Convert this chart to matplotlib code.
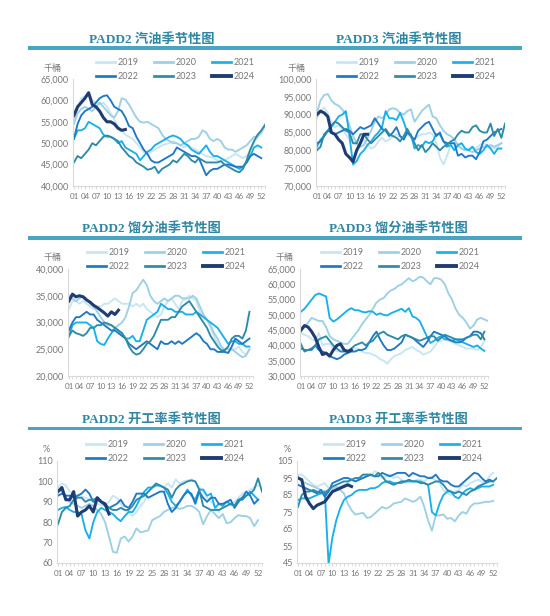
import matplotlib.pyplot as plt
import matplotlib.ticker as mticker
from matplotlib.patches import Rectangle
import numpy as np

W, H = 550, 616

years = ['2019', '2020', '2021', '2022', '2023', '2024']
colors = ['#c8e5f1', '#9dd0e4', '#18b0ea', '#1f78c4', '#2e8ba6', '#1f3d73']
widths = [1.35, 1.35, 1.35, 1.35, 1.35, 2.2]

# PADD2 汽油 (千桶)
gas2_2019 = [55500, 58000, 60500, 61000, 61500, 60000, 59500, 59000, 59500, 58500, 57000, 55500, 54000,
             53000, 52000, 51500, 51000, 50000, 49000, 48000, 47500, 48000, 48500, 49000, 49500, 49800,
             50000, 50500, 50000, 49500, 49000, 49500, 49000, 48500, 48000, 47500, 47000, 46800, 46500,
             46000, 45800, 46000, 46500, 47000, 47500, 47000, 46500, 47000, 48500, 50000, 51500, 52500]
gas2_2020 = [54500, 57000, 58000, 58500, 58000, 57500, 58500, 59500, 58500, 57500, 56500, 56000, 57500,
             60500, 60200, 59000, 57500, 56000, 55000, 54800, 55000, 54500, 54000, 53500, 52000, 51000,
             50500, 50000, 50000, 49500, 50000, 50500, 51000, 51000, 51500, 53000, 52500, 51000, 50500,
             51000, 50500, 49000, 48500, 48500, 48000, 48500, 49000, 49500, 50500, 51500, 51500, 52500, 54000]
gas2_2021 = [51000, 53000, 53000, 53500, 55000, 54500, 54000, 53500, 52000, 51500, 51500, 51000, 50000,
             50500, 49000, 48500, 48000, 47500, 46000, 47000, 48000, 48500, 49500, 50000, 50500, 51000,
             51500, 51800, 51500, 51000, 50000, 49500, 48500, 48000, 47500, 48500, 49500, 48000, 47000,
             47000, 46500, 46000, 45500, 45000, 44500, 44000, 44500, 45500, 47000, 49000, 49500, 49000]
gas2_2022 = [51000, 54500, 56500, 57500, 58000, 58500, 59500, 60500, 61000, 61200, 60000, 58500, 58000,
             57500, 56000, 54000, 53500, 51500, 50000, 48500, 47500, 46000, 45500, 45500, 46000, 46500,
             47000, 47500, 49000, 48500, 48000, 47500, 47000, 47000, 46500, 44500, 42500, 43500, 44000,
             44000, 44500, 45000, 45000, 44800, 44500, 44500, 44500, 45500, 47000, 47500, 47000, 46500]
gas2_2023 = [45500, 47000, 46500, 47500, 48500, 50000, 49500, 50500, 51500, 51800, 51500, 51000, 50500,
             49000, 48000, 47000, 46500, 45500, 45000, 44500, 43800, 44000, 44500, 43000, 44000, 44500,
             45000, 46000, 45500, 46500, 47500, 47000, 46000, 45500, 46500, 46000, 45500, 45500, 45500,
             45500, 45800, 45000, 44500, 44000, 43500, 43200, 44000, 46000, 48500, 50500, 52000, 53000, 54300]
gas2_2024 = [56500, 58500, 59500, 60500, 61800, 59000, 58500, 57500, 56000, 55000, 55000, 54500, 53500,
             53000, 53200]

# PADD3 汽油 (千桶)
gas3_2019 = [89000, 91000, 92000, 90500, 88000, 86500, 87000, 86000, 84500, 83000, 82000, 81500, 82000,
             83000, 81500, 80500, 81000, 82500, 83500, 82500, 83000, 84000, 84500, 83500, 84000, 84500,
             83500, 83000, 84000, 84500, 84500, 85000, 84500, 82000, 78000, 76000, 78500, 81500, 82000,
             81000, 80500, 80000, 80500, 81000, 80500, 81500, 82000, 81500, 81000, 80500, 81000, 82000]
gas3_2020 = [90500, 94000, 95500, 95800, 94000, 93000, 92500, 91500, 90000, 87000, 84000, 82000, 81000,
             81500, 83500, 85500, 88000, 89500, 89000, 90000, 91500, 91800, 91500, 90500, 90000, 91000,
             91500, 88000, 89500, 91000, 92000, 92800, 89500, 89000, 87000, 85500, 84500, 84000, 83000,
             81500, 80500, 80000, 80000, 79500, 80000, 80500, 81000, 81000, 81500, 81000, 81500, 82000]
gas3_2021 = [81000, 83000, 84000, 85500, 86500, 88000, 89500, 90000, 91000, 84000, 76000, 77000, 79000,
             80000, 81500, 82500, 84000, 85000, 86500, 91000, 89000, 89000, 88500, 90500, 88000, 85000,
             84500, 80500, 81500, 81000, 82500, 82000, 82500, 84500, 84500, 82500, 81000, 81500, 80000,
             81500, 82000, 80500, 80000, 81000, 79500, 79000, 80000, 81500, 80500, 79000, 80500, 80500]
gas3_2022 = [82000, 82500, 84000, 85500, 85000, 84500, 85000, 85500, 86000, 85500, 84500, 85500, 86500,
             86000, 86500, 87000, 89000, 87500, 86000, 85500, 84000, 85000, 86500, 84000, 83000, 85000,
             84000, 83000, 85500, 86500, 87500, 88000, 86000, 84000, 85000, 82500, 82000, 82000, 82000,
             78500, 79000, 78000, 78500, 78500, 77500, 79500, 82500, 83000, 84000, 85000, 85500, 86000]
gas3_2023 = [80000, 81000, 84500, 85500, 87000, 88000, 87500, 86500, 85500, 85000, 82000, 82000, 84500,
             84500, 83000, 82000, 83000, 84000, 85000, 86000, 84500, 84000, 83500, 82500, 84000, 86000,
             84000, 82000, 80000, 81500, 79500, 80500, 82000, 81000, 80000, 81000, 81500, 82500, 83000,
             84500, 85500, 85000, 85000, 86500, 87000, 85500, 85000, 85000, 87500, 84000, 86000, 83500, 87500]
gas3_2024 = [90000, 91000, 90500, 89500, 85000, 84500, 83000, 82000, 79000, 78000, 76800, 80000, 82000,
             84500, 84500]

# PADD2 馏分油 (千桶)
dist2_2019 = [32500, 34000, 34000, 33500, 34000, 33500, 33000, 32500, 33000, 33000, 33500, 33500, 34000,
              34500, 34000, 33500, 33500, 33500, 33000, 33500, 33000, 33500, 32500, 32000, 31500, 31000,
              31500, 33000, 34000, 34500, 33500, 32500, 34000, 34500, 35000, 34500, 34000, 32000, 31000,
              30500, 29000, 27500, 26000, 25500, 24500, 24500, 25000, 25000, 25500, 24500, 24000, 25000]
dist2_2020 = [35000, 34500, 34000, 34500, 35000, 34500, 33500, 33000, 32000, 31000, 30000, 29500, 29500,
              29000, 29500, 30000, 31000, 33000, 35500, 36000, 37000, 38000, 37000, 35000, 34000, 33500,
              34000, 34500, 34000, 34500, 35000, 35000, 34500, 34500, 34500, 35000, 34500, 33000, 31500,
              30500, 29500, 28000, 27000, 25500, 25000, 25000, 25000, 24500, 24000, 23500, 23800, 25000]
dist2_2021 = [27300, 29500, 30000, 30000, 30000, 30000, 29500, 29000, 26500, 26000, 25800, 27000, 28000,
              29000, 28500, 28000, 27000, 27000, 27500, 26500, 26500, 28500, 30500, 31000, 31500, 32000,
              33500, 33000, 32500, 32500, 32000, 32000, 32000, 31500, 31500, 31500, 32000, 31500, 31000,
              30500, 30000, 29500, 29000, 28000, 27000, 26000, 26500, 26500, 26000, 26000, 25500, 25500]
dist2_2022 = [28500, 30000, 31000, 31000, 31500, 32000, 31500, 31500, 30500, 30000, 29500, 29000, 28500,
              28500, 28000, 27500, 27000, 26000, 25500, 25000, 25500, 26000, 26500, 26000, 25500, 25000,
              26500, 26000, 26000, 26500, 26000, 26500, 26000, 26500, 27000, 27500, 28000, 27500, 26500,
              26000, 25000, 25000, 24500, 24500, 24500, 24300, 25500, 27000, 26500, 26000, 26500, 27000]
dist2_2023 = [27500, 28500, 28000, 27800, 27500, 28000, 29000, 29000, 29500, 29500, 30000, 29800, 29500,
              29000, 28500, 28000, 27000, 25500, 24500, 24000, 24200, 25000, 26000, 26500, 27500, 29000,
              30500, 30500, 30500, 31000, 31000, 32000, 33000, 33500, 34000, 33000, 32000, 31000, 30000,
              29000, 27500, 26500, 25500, 24800, 24800, 25500, 27000, 27500, 27500, 27000, 28500, 32000]
dist2_2024 = [34000, 35300, 34800, 35000, 34800, 34200, 33800, 33200, 32800, 32300, 31800, 31200, 32000,
              31500, 32300]

# PADD3 馏分油 (千桶)
dist3_2019 = [44000, 43500, 43000, 42000, 41500, 44000, 40000, 40500, 40500, 39000, 38000, 38500, 39000,
              38500, 38500, 39000, 39000, 38000, 37500, 37500, 37000, 36500, 35500, 35000, 34000, 35500,
              36500, 37000, 37500, 38500, 39000, 39500, 38500, 38000, 37000, 37500, 38000, 39500, 41000,
              41500, 42000, 41500, 41000, 40500, 40000, 39500, 39000, 39000, 39000, 38500, 39500, 41500]
dist3_2020 = [44500, 46000, 47500, 49000, 48500, 48000, 48000, 46000, 43000, 42000, 41500, 41000, 40500,
              40500, 42000, 43500, 45000, 47000, 48500, 50000, 52000, 54000, 55000, 55500, 57000, 58000,
              58500, 59500, 60000, 61000, 62000, 61000, 61500, 62500, 62200, 61000, 60000, 62000, 62000,
              61500, 60000, 57000, 55000, 52000, 50000, 49000, 47500, 45500, 46500, 48500, 49000, 48500, 48000]
dist3_2021 = [51000, 52000, 53500, 55000, 56500, 57000, 56500, 56000, 49000, 47800, 48500, 49500, 50500,
              51500, 52200, 51500, 51500, 51000, 50800, 51200, 51000, 50000, 50500, 50000, 49800, 50500,
              51000, 51500, 52000, 51000, 52200, 49500, 49000, 48000, 45500, 43000, 40800, 41500, 42500,
              43000, 42000, 42000, 41500, 42000, 41500, 41000, 40500, 40000, 39500, 40000, 39000, 38200]
dist3_2022 = [39000, 38500, 38500, 39000, 40000, 38500, 38000, 37500, 36500, 36000, 35500, 36000, 37000,
              37500, 38000, 38000, 38500, 38500, 39000, 41000, 43000, 44500, 42000, 40000, 38500, 38500,
              39000, 40000, 41000, 43500, 43000, 42500, 41500, 40500, 39500, 41000, 43000, 44500, 44000,
              43500, 43000, 42000, 41500, 41000, 41000, 41500, 42500, 43000, 44500, 44500, 44000, 42000]
dist3_2023 = [40500, 38000, 38500, 38500, 40000, 42000, 42500, 43000, 41500, 40000, 39000, 38000, 38000,
              38000, 39000, 40000, 40500, 41000, 40000, 41000, 41500, 43000, 44000, 44500, 43500, 43000,
              42500, 42000, 43000, 43500, 43000, 42500, 42000, 41500, 42000, 42500, 43000, 43000, 41500,
              42500, 43500, 43000, 42500, 42000, 42000, 42000, 42500, 43000, 43500, 43500, 42000, 44500]
dist3_2024 = [45000, 46500, 46000, 44500, 42500, 39500, 37000, 37500, 36500, 38500, 40000, 40500, 38500,
              38000, 38500]

# PADD2 开工率 (%)
run2_2019 = [97, 99, 98, 95, 94, 93, 92.5, 92, 91, 90, 89, 88.5, 88, 90, 93, 92, 89, 86, 85, 83, 85, 88,
             90, 95, 96.5, 98, 97.5, 97, 99, 97, 101, 99, 100, 100.5, 101, 100, 97, 95, 92, 90, 88, 85,
             88, 90, 88, 90, 92, 94, 95, 96, 97, 98]
run2_2020 = [96, 95, 92, 90, 89, 88, 87, 88, 89, 88, 86, 84, 80, 73, 65.5, 65, 72, 73, 70.5, 73, 77, 75,
             75.5, 76, 81, 82, 83, 85, 86, 87, 87.5, 86.5, 87, 88, 88, 87, 85, 79, 83, 86, 84, 82, 84,
             79.5, 80, 82, 83.5, 83, 83, 82, 78, 81]
run2_2021 = [86, 87, 87.5, 86, 85, 85, 84, 76, 72, 80, 85, 87, 86, 85, 84, 82, 80.5, 83, 85, 85, 88, 92,
             95, 97, 97, 98, 98, 97, 94, 90, 88, 90, 93, 96, 93, 91, 96, 96, 93, 94, 87, 89, 88, 90, 89,
             88, 91, 92, 93, 95, 93, 91]
run2_2022 = [93, 94, 93, 93, 92, 93, 94, 96, 94, 90, 91, 90, 89, 87, 88, 89, 91, 88, 87, 90, 94, 94, 94,
             92, 93, 94, 95, 95, 89, 85, 87, 90, 93, 95, 94, 89, 95, 92, 90, 92, 92, 89, 89, 90, 91, 87,
             90, 92, 95, 93, 89, 91]
run2_2023 = [79, 85, 87, 88, 91, 92, 92, 90, 91, 91, 92, 90, 88, 87, 86, 86, 87, 86, 86, 88, 91, 92, 93,
             95, 97, 99, 98, 97, 96, 92, 96, 98, 99, 100, 100.5, 100, 96, 88, 87, 86, 86, 86, 87, 88, 89,
             88, 91, 91, 93, 94, 96, 101.5, 95]
run2_2024 = [95, 97, 91, 91, 95, 83, 85, 86, 88, 85, 92, 90, 89, 84]

# PADD3 开工率 (%)
run3_2019 = [97, 97, 95, 93, 91, 90, 91, 92, 89, 88, 89, 90, 91, 92, 94, 93, 95, 95, 97, 96, 99, 98, 95,
             96, 97, 95, 96, 94, 92, 93, 93, 94, 94, 93, 95, 96, 93, 92, 88, 86, 85, 87, 88, 91, 90, 92,
             93, 94, 93, 92, 96, 98]
run3_2020 = [96, 93, 92, 91, 90, 89, 88, 87, 88, 89, 90, 88, 86, 80, 76, 73.5, 74, 74.5, 71.5, 72, 74, 76,
             78, 77, 78, 80, 80.5, 81, 83, 82, 81, 82, 84, 78, 70, 64, 73, 73, 73.5, 71, 71.5, 69.5, 73,
             75, 74, 78, 80, 80, 80.5, 81, 81, 81.5]
run3_2021 = [82, 83, 83, 83, 84, 85, 86, 87, 44.5, 60, 70, 77, 82, 84, 85, 87, 88, 88, 88, 89, 89, 90, 92,
             93, 93, 92, 92, 92, 93, 93, 93, 93, 93, 92, 91, 75, 73, 80, 85, 87, 87, 84, 83, 86, 88, 89,
             88, 89, 90, 90, 90, 91]
run3_2022 = [91, 90, 89, 88, 87, 86, 88, 84, 87, 92, 93, 94, 95, 95, 94, 93, 94, 95, 96, 97, 96, 96, 98,
             97, 96, 97, 98, 98, 98, 96, 98, 97, 96, 96, 95, 95, 97, 94, 93, 93, 91, 90, 90, 92, 94, 96,
             98, 97.5, 95, 93, 94, 93]
run3_2023 = [78, 85, 87, 87, 88, 87, 86, 86, 88, 90, 91, 92, 93, 93, 94, 95, 95, 97, 97, 97, 96, 98, 96,
             93, 92, 91, 92, 93, 93, 94, 93, 93, 92, 92, 91, 92, 93, 93, 91, 88, 87, 86, 87, 86, 85, 87,
             88, 90, 91, 92, 93, 93, 95]
run3_2024 = [95, 94, 84, 80, 77, 79, 80, 81, 84, 87, 88, 89, 90, 91, 90]

gas2 = [gas2_2019, gas2_2020, gas2_2021, gas2_2022, gas2_2023, gas2_2024]
gas3 = [gas3_2019, gas3_2020, gas3_2021, gas3_2022, gas3_2023, gas3_2024]
dist2 = [dist2_2019, dist2_2020, dist2_2021, dist2_2022, dist2_2023, dist2_2024]
dist3 = [dist3_2019, dist3_2020, dist3_2021, dist3_2022, dist3_2023, dist3_2024]
run2 = [run2_2019, run2_2020, run2_2021, run2_2022, run2_2023, run2_2024]
run3 = [run3_2019, run3_2020, run3_2021, run3_2022, run3_2023, run3_2024]

# title, data, unit, y range, y step, axes box in pixels (left, right, top, bottom), unit label pos
panels = [
    ('PADD2 汽油季节性图', gas2, '千桶', (40000, 65000), 5000, (73, 265, 79, 186), (52, 68)),
    ('PADD3 汽油季节性图', gas3, '千桶', (70000, 100000), 5000, (316, 505, 79, 186), (297, 69)),
    ('PADD2 馏分油季节性图', dist2, '千桶', (20000, 40000), 5000, (68, 253, 269, 376), (52, 258)),
    ('PADD3 馏分油季节性图', dist3, '千桶', (30000, 65000), 5000, (300, 488, 269, 376), (284, 258)),
    ('PADD2 开工率季节性图', run2, '%', (60, 110), 10, (57, 262, 461, 563), (46, 450)),
    ('PADD3 开工率季节性图', run3, '%', (45, 105), 10, (297, 497, 461, 563), (287, 450)),
]
title_rows = [(40, 48), (229, 238), (420, 428)]
tick_color = '#767676'
title_color = '#2f86a3'
bar_color = '#4aa5c3'
cjk = ['Liberation Serif', 'Noto Sans CJK SC']
sans = ['Lato', 'Noto Sans CJK SC']

fig = plt.figure(figsize=(W / 100, H / 100), dpi=100)
fig.patch.set_facecolor('white')

for i, (title, series, unit, ylim, ystep, box, upos) in enumerate(panels):
    l, r, t, b = box
    ax = fig.add_axes([l / W, 1 - b / H, (r - l) / W, (b - t) / H])
    handles = []
    for vals, yr, c, lw in zip(series, years, colors, widths):
        x = np.arange(1, len(vals) + 1)
        h, = ax.plot(x, vals, color=c, lw=lw, label=yr, solid_joinstyle='round')
        handles.append(h)

    ax.set_xlim(0.75, 53)
    ax.set_ylim(*ylim)
    ax.set_yticks(np.arange(ylim[0], ylim[1] + 1, ystep))
    ax.yaxis.set_major_formatter(mticker.FuncFormatter(lambda v, p: f'{int(v):,}'))
    ax.set_xticks(np.arange(1, 53, 3))
    ax.set_xticklabels([f'{w:02d}' for w in range(1, 53, 3)])
    ax.set_xticks(np.arange(1, 54), minor=True)
    for s in ['top', 'right']:
        ax.spines[s].set_visible(False)
    for s in ['left', 'bottom']:
        ax.spines[s].set_color('#d9d9d9')
        ax.spines[s].set_linewidth(0.8)
    ax.tick_params(axis='y', length=0, labelsize=6.5, labelcolor=tick_color, pad=3)
    ax.tick_params(axis='x', which='both', length=2, color='#d9d9d9', labelsize=5.8,
                   labelcolor=tick_color, pad=3)
    for lab in ax.get_xticklabels() + ax.get_yticklabels():
        lab.set_family(sans)

    # legend above the plot, row-major order
    order = [0, 3, 1, 4, 2, 5]
    cx = (l + r) / 2 / W + 6 / W
    cy = 1 - (t - 9.5) / H
    leg = ax.legend([handles[k] for k in order], [years[k] for k in order], ncol=3, loc='center',
                    bbox_to_anchor=(cx, cy), bbox_transform=fig.transFigure, frameon=False,
                    prop={'family': sans, 'size': 6.5}, labelcolor=tick_color, handlelength=2.1,
                    columnspacing=1.7, labelspacing=0.5, handletextpad=0.3, borderpad=0)
    for lh, k in zip(leg.get_lines(), order):
        lh.set_linewidth(widths[k] + 0.6)

    fig.text(upos[0] / W, 1 - upos[1] / H, unit, ha='center', va='center', fontsize=6.5,
             color=tick_color, family=sans)

    # title and bar
    row = i // 2
    ty, by = title_rows[row]
    if i % 2 == 0:
        x0, x1 = 28, 275
    else:
        x0, x1 = 275, 522
    fig.add_artist(Rectangle((x0 / W, 1 - (by + 1.5) / H), (x1 - x0) / W, 3 / H,
                             transform=fig.transFigure, color=bar_color, lw=0))
    fig.text((x0 + x1) / 2 / W, 1 - ty / H, title, ha='center', va='center', fontsize=9.5,
             fontweight='bold', color=title_color, family=cjk)

fig.savefig('out.png', dpi=100, facecolor='white')
